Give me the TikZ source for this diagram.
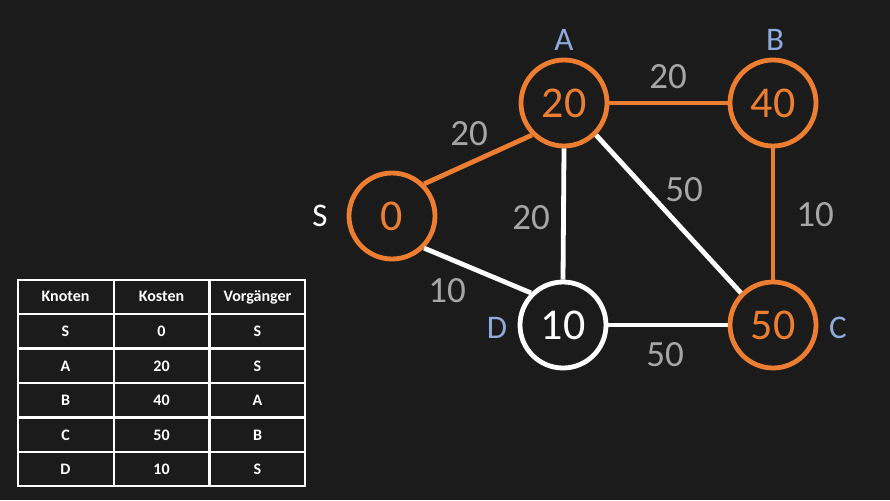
\documentclass[tikz,border=0pt]{standalone}
\usepackage{fontspec}
\setmainfont{Carlito}

\definecolor{bg}{RGB}{27,27,27}
\definecolor{korange}{RGB}{237,125,49}
\definecolor{kblue}{RGB}{143,170,220}
\definecolor{kgray}{RGB}{166,166,166}

\begin{document}
\begin{tikzpicture}[x=1pt, y=-1pt,
  vertex/.style={draw, shape=circle, line width=4.8pt, minimum size=86pt, inner sep=0pt, font=\fontsize{44}{44}\selectfont},
  vlabel/.style={text=kblue, font=\fontsize{33}{33}\selectfont},
  cost/.style={text=kgray, font=\fontsize{37}{37}\selectfont},
  treeedge/.style={draw=korange, line width=4.8pt},
  otheredge/.style={draw=white, line width=4.8pt},
  cell/.style={text=white, font=\fontsize{16}{16}\selectfont\bfseries, text height=10.3pt, text depth=0pt, inner sep=0pt}]

\useasboundingbox[fill=bg] (0,0) rectangle (890,500);

\node[vertex, korange] (S) at (392, 216) {0};
\node[vertex, korange] (A) at (564, 103) {20};
\node[vertex, korange] (B) at (773, 103) {40};
\node[vertex, white] (D) at (563, 325) {10};
\node[vertex, korange] (C) at (773, 325) {50};

\node[vlabel, text=white] (lS) at (320, 216) {S};
\node[vlabel] (lA) at (564, 40) {A};
\node[vlabel] (lB) at (775, 40) {B};
\node[vlabel] (lD) at (497, 328) {D};
\node[vlabel] (lC) at (838, 328) {C};

\draw (S.north east) edge[treeedge] (A.south west);
\draw (A.east) edge[treeedge] (B.west);
\draw (B.south) edge[treeedge] (C.north);
\draw (S.south east) edge[otheredge] (D.north west);
\draw (A.south) edge[otheredge] (D.north);
\draw (A.south east) edge[otheredge] (C.north west);
\draw (D.east) edge[otheredge] (C.west);

\node[cost] (wSA) at (469, 134) {20};
\node[cost] (wAB) at (668, 77) {20};
\node[cost] (wAC) at (684, 190) {50};
\node[cost] (wBC) at (815, 215) {10};
\node[cost] (wAD) at (531, 218) {20};
\node[cost] (wSD) at (447, 291) {10};
\node[cost] (wDC) at (665, 355) {50};

% Tabelle
\draw[white, line width=2.5pt] (18, 280) rectangle (305, 486);
\draw[white, line width=2.5pt] (114, 280) -- (114, 486);
\draw[white, line width=2.5pt] (209.5, 280) -- (209.5, 486);
\draw[white, line width=2.5pt] (18, 314) -- (305, 314);
\draw[white, line width=2.5pt] (18, 348.5) -- (305, 348.5);
\draw[white, line width=2.5pt] (18, 383) -- (305, 383);
\draw[white, line width=2.5pt] (18, 417.5) -- (305, 417.5);
\draw[white, line width=2.5pt] (18, 452) -- (305, 452);

\node[cell] (t11) at (65.5, 296.5) {Knoten};
\node[cell] (t12) at (161.5, 296.5) {Kosten};
\node[cell] (t13) at (257.5, 296.5) {Vorgänger};
\node[cell] (t21) at (65.5, 331) {S};
\node[cell] (t22) at (161.5, 331) {0};
\node[cell] (t23) at (257.5, 331) {S};
\node[cell] (t31) at (65.5, 366) {A};
\node[cell] (t32) at (161.5, 366) {20};
\node[cell] (t33) at (257.5, 366) {S};
\node[cell] (t41) at (65.5, 400.5) {B};
\node[cell] (t42) at (161.5, 400.5) {40};
\node[cell] (t43) at (257.5, 400.5) {A};
\node[cell] (t51) at (65.5, 435) {C};
\node[cell] (t52) at (161.5, 435) {50};
\node[cell] (t53) at (257.5, 435) {B};
\node[cell] (t61) at (65.5, 469) {D};
\node[cell] (t62) at (161.5, 469) {10};
\node[cell] (t63) at (257.5, 469) {S};
\end{tikzpicture}
\end{document}
